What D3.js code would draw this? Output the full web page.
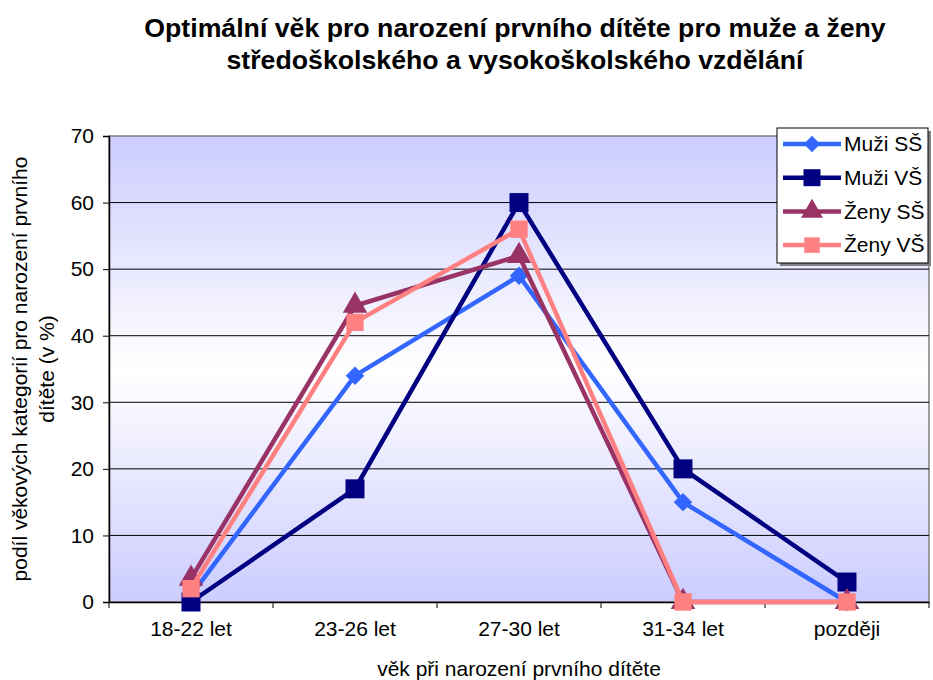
<!DOCTYPE html>
<html>
<head>
<meta charset="utf-8">
<script src="https://cdn.jsdelivr.net/npm/d3@7"></script>
<style>
  body { margin: 0; background: #fff; }
  text { font-family: "Liberation Sans", Arial, sans-serif; fill: #000; }
</style>
</head>
<body>
<div id="chart"></div>
<script>
// data
var categories = ["18-22 let", "23-26 let", "27-30 let", "31-34 let", "později"];
var seriesNames = ["Muži SŠ", "Muži VŠ", "Ženy SŠ", "Ženy VŠ"];
var muziSS = [1, 34, 49, 15, 0];
var muziVS = [0, 17, 60, 20, 3];
var zenySS = [3.5, 44.5, 52, 0, 0];
var zenyVS = [2, 42, 56, 0, 0];
var yTicks = [0, 10, 20, 30, 40, 50, 60, 70];

var colors = ["#3366FF", "#000080", "#993366", "#FF8080"];
// square diamond (wider than d3.symbolDiamond)
var wideDiamond = {
  draw: function(context, size) {
    var r = Math.sqrt(size / 2);
    context.moveTo(0, -r);
    context.lineTo(r, 0);
    context.lineTo(0, r);
    context.lineTo(-r, 0);
    context.closePath();
  }
};
var symbols = [wideDiamond, d3.symbolSquare, d3.symbolTriangle, d3.symbolSquare];
var symSizes = [170, 360, 260, 300];
var allSeries = [muziSS, muziVS, zenySS, zenyVS];

var svgWidth = 933, svgHeight = 680;
var margin = { top: 136, right: 4, bottom: 78, left: 109 };
var width = svgWidth - margin.left - margin.right;
var height = svgHeight - margin.top - margin.bottom;

var svg = d3.select("#chart").append("svg")
  .attr("width", svgWidth)
  .attr("height", svgHeight);

// background gradient
var grad = svg.append("defs").append("linearGradient")
  .attr("id", "bg").attr("x1", 0).attr("y1", 0).attr("x2", 0).attr("y2", 1);
grad.append("stop").attr("offset", "0%").attr("stop-color", "#CCCCFF");
grad.append("stop").attr("offset", "50%").attr("stop-color", "#FFFFFF");
grad.append("stop").attr("offset", "100%").attr("stop-color", "#CCCCFF");

// title
var title = svg.append("text")
  .attr("x", 515).attr("y", 37)
  .attr("text-anchor", "middle")
  .style("font-size", "26.7px").style("font-weight", "bold");
title.append("tspan").attr("x", 515).text("Optimální věk pro narození prvního dítěte pro muže a ženy");
title.append("tspan").attr("x", 515).attr("dy", 32).text("středoškolského a vysokoškolského vzdělání");

var chartGroup = svg.append("g")
  .attr("transform", `translate(${margin.left}, ${margin.top})`);

var x = d3.scaleBand().domain(categories).range([0, width]).padding(0);
var y = d3.scaleLinear().domain([0, 70]).range([height, 0]);
var cx = function(i) { return x(categories[i]) + x.bandwidth() / 2; };

chartGroup.append("rect")
  .attr("width", width).attr("height", height)
  .attr("fill", "url(#bg)")
  .attr("stroke", "#808080").attr("stroke-width", 1.5);

// gridlines
chartGroup.selectAll(".grid")
  .data(yTicks.filter(d => d > 0 && d < 70))
  .enter().append("line")
  .attr("x1", 0).attr("x2", width)
  .attr("y1", d => y(d)).attr("y2", d => y(d))
  .attr("stroke", "#000").attr("stroke-width", 1);

// y axis
var leftAxis = d3.axisLeft(y).tickValues(yTicks).tickSize(6).tickPadding(9);
var yAxis = chartGroup.append("g").call(leftAxis);
yAxis.select(".domain").attr("stroke", "#000").attr("stroke-width", 1.5);
yAxis.selectAll("text").style("font-size", "21px").attr("fill", "#000");

// x axis
var bottomAxis = d3.axisBottom(x).tickSize(0).tickPadding(19);
var xAxis = chartGroup.append("g")
  .attr("transform", `translate(0,${height})`)
  .call(bottomAxis);
xAxis.select(".domain").attr("stroke", "#000").attr("stroke-width", 1.5);
xAxis.selectAll("text").style("font-size", "21px").attr("fill", "#000");
xAxis.selectAll(".sep")
  .data(d3.range(categories.length + 1))
  .enter().append("line")
  .attr("x1", i => i * x.bandwidth()).attr("x2", i => i * x.bandwidth())
  .attr("y1", 0).attr("y2", 6)
  .attr("stroke", "#000");

// axis titles
svg.append("text")
  .attr("x", margin.left + width / 2).attr("y", 676)
  .attr("text-anchor", "middle")
  .style("font-size", "21px")
  .text("věk při narození prvního dítěte");

var yTitle = svg.append("text")
  .attr("transform", `translate(27, ${margin.top + height / 2}) rotate(-90)`)
  .attr("text-anchor", "middle")
  .style("font-size", "21px");
yTitle.append("tspan").attr("x", 0).attr("y", 0).text("podíl věkových kategorií pro narození prvního");
yTitle.append("tspan").attr("x", 0).attr("y", 27).text("dítěte (v %)");

// lines + markers
var line = d3.line().x((d, i) => cx(i)).y(d => y(d));
allSeries.forEach(function(vals, s) {
  chartGroup.append("path")
    .datum(vals)
    .attr("d", line)
    .attr("fill", "none")
    .attr("stroke", colors[s])
    .attr("stroke-width", 4.5)
    .attr("stroke-linejoin", "miter");
  chartGroup.selectAll(".m" + s)
    .data(vals)
    .enter().append("path")
    .attr("transform", (d, i) => `translate(${cx(i)},${y(d)})`)
    .attr("d", d3.symbol().type(symbols[s]).size(symSizes[s]))
    .attr("fill", colors[s]);
});

// legend
var legend = svg.append("g").attr("transform", "translate(777,128)");
legend.append("rect")
  .attr("x", 3).attr("y", 3).attr("width", 151).attr("height", 135)
  .attr("fill", "#808080");
legend.append("rect")
  .attr("width", 151).attr("height", 135)
  .attr("fill", "#fff").attr("stroke", "#000").attr("stroke-width", 1);
seriesNames.forEach(function(name, s) {
  var ly = 16 + s * 33.7;
  legend.append("line")
    .attr("x1", 6).attr("x2", 64).attr("y1", ly).attr("y2", ly)
    .attr("stroke", colors[s]).attr("stroke-width", 4.5);
  legend.append("path")
    .attr("transform", `translate(35,${ly})`)
    .attr("d", d3.symbol().type(symbols[s]).size(symSizes[s] * 0.8))
    .attr("fill", colors[s]);
  legend.append("text")
    .attr("x", 67).attr("y", ly).attr("dy", "0.35em")
    .style("font-size", "21px")
    .text(name);
});
</script>
</body>
</html>
